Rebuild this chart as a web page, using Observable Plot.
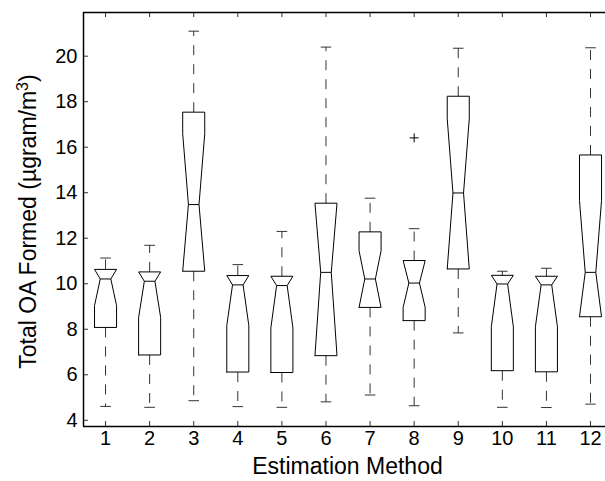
<!DOCTYPE html>
<html>
<head>
<meta charset="utf-8">
<script src="https://cdn.jsdelivr.net/npm/d3@7"></script>
<script src="https://cdn.jsdelivr.net/npm/@observablehq/plot@0.6"></script>
<style>
  html, body { margin: 0; padding: 0; background: white; }
</style>
</head>
<body>
<div id="chart"></div>
<script>
// Estimation methods (x categories)
const methods = [1, 2, 3, 4, 5, 6, 7, 8, 9, 10, 11, 12];
// Box-plot statistics (µgram/m³)
const whiskerLow  = [4.61, 4.57, 4.86, 4.60, 4.57, 4.81, 5.11, 4.64, 7.84, 4.57, 4.56, 4.71];
const q1          = [8.08, 6.87, 10.55, 6.12, 6.10, 6.84, 8.96, 8.38, 10.65, 6.18, 6.13, 8.55];
const notchLow    = [9.04, 8.52, 10.55, 8.16, 8.06, 6.84, 8.96, 8.96, 10.65, 8.11, 8.11, 8.55];
const median      = [10.21, 10.11, 13.48, 9.95, 9.92, 10.50, 10.21, 10.03, 13.99, 9.99, 9.95, 10.50];
const notchHigh   = [10.63, 10.52, 16.59, 10.36, 10.33, 13.54, 11.45, 11.02, 17.25, 10.37, 10.33, 13.65];
const q3          = [10.63, 10.52, 17.54, 10.36, 10.33, 13.54, 12.28, 11.02, 18.24, 10.37, 10.33, 15.66];
const whiskerHigh = [11.13, 11.69, 21.10, 10.84, 12.30, 20.40, 13.76, 12.42, 20.35, 10.55, 10.68, 20.37];
// Outliers
const outlierMethod = [8];
const outlierValue  = [16.41];
// Axis ticks
const yTicks = [4, 6, 8, 10, 12, 14, 16, 18, 20];
const xDomain = [0.5, 12.34];
const yDomain = [3.727, 21.92];

const W = 605, H = 481, mL = 83, mR = 0, mT = 12, mB = 55;
const frameW = W - mL - mR, frameH = H - mT - mB;
const tickLen = 5;
const boxHalf = 0.25, notchHalf = 0.12, capHalf = 0.12;

const boxPts = methods.flatMap((m, i) => {
  const pts = [
    [m - boxHalf, q1[i]], [m - boxHalf, notchLow[i]], [m - notchHalf, median[i]],
    [m - boxHalf, notchHigh[i]], [m - boxHalf, q3[i]],
    [m + boxHalf, q3[i]], [m + boxHalf, notchHigh[i]], [m + notchHalf, median[i]],
    [m + boxHalf, notchLow[i]], [m + boxHalf, q1[i]], [m - boxHalf, q1[i]]
  ];
  return pts.map(([x, y]) => ({method: m, x, y}));
});
const stats = methods.map((m, i) => ({
  m, lo: whiskerLow[i], q1: q1[i], med: median[i], q3: q3[i], hi: whiskerHigh[i]
}));
const outliers = outlierMethod.map((m, i) => ({m, v: outlierValue[i]}));

const plusSymbol = {
  draw(ctx, size) {
    const r = Math.sqrt(size / Math.PI);
    ctx.moveTo(-r, 0); ctx.lineTo(r, 0);
    ctx.moveTo(0, -r); ctx.lineTo(0, r);
  }
};

const font = "'Liberation Sans', Arial, Helvetica, sans-serif";

const svg = Plot.plot({
  width: W, height: H,
  marginLeft: mL, marginRight: mR, marginTop: mT, marginBottom: mB,
  style: {fontFamily: font, fontSize: "20px", background: "white", color: "black", overflow: "visible"},
  x: {domain: xDomain, axis: null},
  y: {domain: yDomain, axis: null},
  marks: [
    // axes tick labels
    Plot.axisY({ticks: yTicks, tickSize: 0, tickPadding: 6, label: null, fontSize: 20}),
    Plot.axisX({ticks: methods, tickSize: 0, tickPadding: 4, label: null, fontSize: 20, tickFormat: d => String(d)}),
    // inward tick marks
    Plot.tickY(yTicks, {y: d => d, insetRight: frameW - tickLen, stroke: "#333", strokeWidth: 1}),
    Plot.tickX(methods, {x: d => d, insetBottom: frameH - tickLen, stroke: "#333", strokeWidth: 1}),
    Plot.tickX(methods, {x: d => d, insetTop: frameH - tickLen, stroke: "#333", strokeWidth: 1}),
    // whiskers (dashed)
    Plot.link(stats, {x1: "m", x2: "m", y1: "q3", y2: "hi", stroke: "#333", strokeWidth: 1, strokeDasharray: "10,9"}),
    Plot.link(stats, {x1: "m", x2: "m", y1: "q1", y2: "lo", stroke: "#333", strokeWidth: 1, strokeDasharray: "10,9"}),
    // whisker caps
    Plot.link(stats, {x1: d => d.m - capHalf, x2: d => d.m + capHalf, y1: "hi", y2: "hi", stroke: "#333", strokeWidth: 1}),
    Plot.link(stats, {x1: d => d.m - capHalf, x2: d => d.m + capHalf, y1: "lo", y2: "lo", stroke: "#333", strokeWidth: 1}),
    // notched boxes
    Plot.line(boxPts, {x: "x", y: "y", z: "method", stroke: "black", strokeWidth: 1, fill: "none"}),
    // medians
    Plot.link(stats, {x1: d => d.m - notchHalf, x2: d => d.m + notchHalf, y1: "med", y2: "med", stroke: "black", strokeWidth: 1}),
    // outliers
    Plot.dot(outliers, {x: "m", y: "v", symbol: plusSymbol, r: 4.5, stroke: "black", strokeWidth: 1, fill: "none"}),
    // axes lines (frame: left, bottom, top)
    Plot.ruleX([xDomain[0]], {stroke: "black", strokeWidth: 1.5}),
    Plot.ruleY([yDomain[0], yDomain[1]], {stroke: "black", strokeWidth: 1.5}),
    // axis labels
    Plot.text(["Estimation Method"], {frameAnchor: "bottom", text: d => d, dx: 3, dy: 31, lineAnchor: "top", textAnchor: "middle", fontSize: 23, fill: "black"}),
    Plot.text(["Total OA Formed (µgram/m3)"], {frameAnchor: "left", text: d => d, dx: -64, dy: 2, rotate: -90, lineAnchor: "top", textAnchor: "middle", fontSize: 23, fill: "black", className: "ylab"})
  ]
});

// superscript the "3" in the y label
const lab = svg.querySelector(".ylab text");
if (lab) {
  lab.textContent = "Total OA Formed (µgram/m";
  const ns = "http://www.w3.org/2000/svg";
  const sup = document.createElementNS(ns, "tspan");
  sup.setAttribute("font-size", "16");
  sup.setAttribute("dy", "-8");
  sup.textContent = "3";
  const close = document.createElementNS(ns, "tspan");
  close.setAttribute("dy", "8");
  close.textContent = ")";
  lab.appendChild(sup);
  lab.appendChild(close);
}

document.getElementById("chart").appendChild(svg);
</script>
</body>
</html>
